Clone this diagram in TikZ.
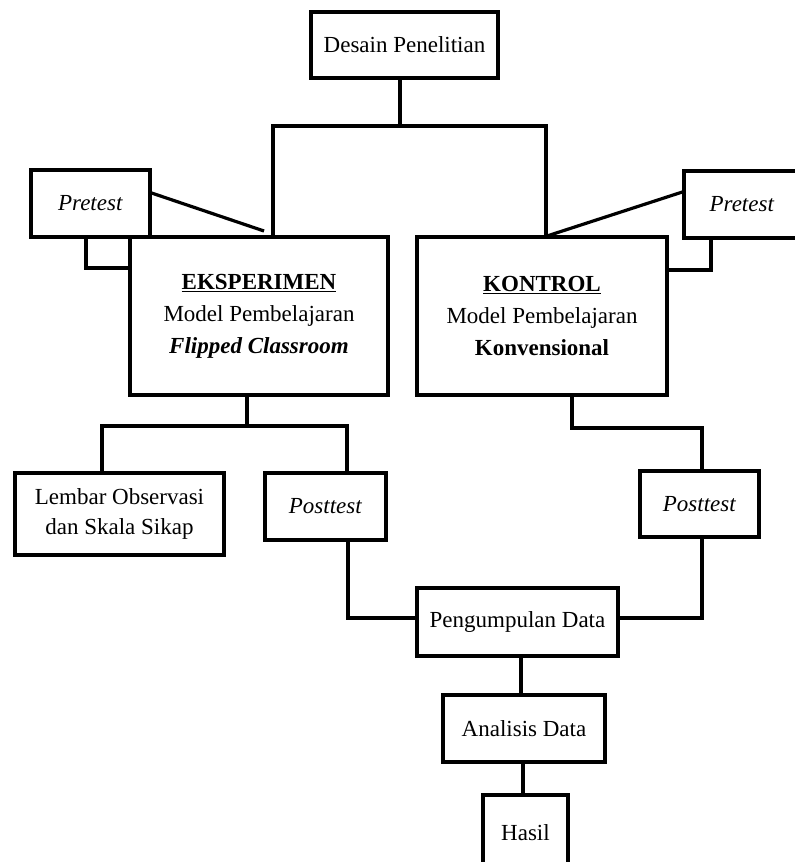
\documentclass[tikz,border=0pt]{standalone}
\usepackage{fontspec}
\setmainfont{Liberation Serif}
\begin{document}
\begin{tikzpicture}[x=1pt,y=-1pt,
  box/.style={draw,line width=3.2pt,rectangle,inner sep=0pt,align=center,
    font=\fontsize{23}{32}\selectfont},
  conn/.style={line width=3.2pt}]
\useasboundingbox (0,0) rectangle (795,862);
\clip (0,0) rectangle (795,862);
% nodes
\node[box,minimum width=187,minimum height=66] (desain) at (404.5,45) {Desain Penelitian};
\node[box,minimum width=119,minimum height=67] (pretestL) at (90.5,203.5) {\textit{Pretest}};
\node[box,minimum width=116,minimum height=67] (pretestR) at (742,204.5) {\textit{Pretest}};
\node[box,minimum width=258,minimum height=158] (eksp) at (259,316)
  {\underline{\textbf{EKSPERIMEN}}\\Model Pembelajaran\\\textbf{\textit{Flipped Classroom}}};
\node[box,minimum width=250,minimum height=158] (kontrol) at (542,316)
  {\underline{\textbf{KONTROL}}\\Model Pembelajaran\\\textbf{Konvensional}};
\node[box,minimum width=209,minimum height=82,font=\fontsize{23}{30}\selectfont] (lembar) at (119.5,514)
  {Lembar Observasi\\dan Skala Sikap};
\node[box,minimum width=121,minimum height=67] (postL) at (325.5,506.5) {\textit{Posttest}};
\node[box,minimum width=119,minimum height=66] (postR) at (699.5,504) {\textit{Posttest}};
\node[box,minimum width=201,minimum height=68] (kumpul) at (517.5,622) {Pengumpulan Data};
\node[box,minimum width=162,minimum height=67] (analisis) at (524,728.5) {Analisis Data};
\node[box,minimum width=85,minimum height=75] (hasil) at (525.5,832.5) {Hasil};
% junction coordinates
\coordinate (top) at (400,126);
\coordinate (tl) at (273,126);
\coordinate (tr) at (546,126);
\coordinate (dl) at (152,193);
\coordinate (dlend) at (264,231);
\coordinate (dr) at (682,192);
\coordinate (drend) at (547,236);
\coordinate (cL) at (86,268);
\coordinate (cR) at (711,270);
\coordinate (e1) at (247,426);
\coordinate (eL) at (102,426);
\coordinate (eR) at (347,426);
\coordinate (k1) at (572,428);
\coordinate (k2) at (702,428);
\coordinate (p1) at (348,618);
\coordinate (p2) at (702,618);
\coordinate (a1) at (521,680);
\coordinate (a2) at (523,780);
% connectors
\draw[conn] (desain.south -| top) -- (top);
\draw[conn] (eksp.north -| tl) -- (tl) -- (tr) -- (kontrol.north -| tr);
\draw[conn] (pretestL.east |- dl) -- (dlend);
\draw[conn] (pretestR.west |- dr) -- (drend);
\draw[conn] (pretestL.south -| cL) -- (cL) -- (eksp.west |- cL);
\draw[conn] (pretestR.south -| cR) -- (cR) -- (kontrol.east |- cR);
\draw[conn] (eksp.south -| e1) -- (e1);
\draw[conn] (lembar.north -| eL) -- (eL) -- (eR) -- (postL.north -| eR);
\draw[conn] (kontrol.south -| k1) -- (k1) -- (k2) -- (postR.north -| k2);
\draw[conn] (postL.south -| p1) -- (p1) -- (kumpul.west |- p1);
\draw[conn] (postR.south -| p2) -- (p2) -- (kumpul.east |- p2);
\draw[conn] (kumpul.south -| a1) -- (analisis.north -| a1);
\draw[conn] (analisis.south -| a2) -- (hasil.north -| a2);
\end{tikzpicture}
\end{document}
